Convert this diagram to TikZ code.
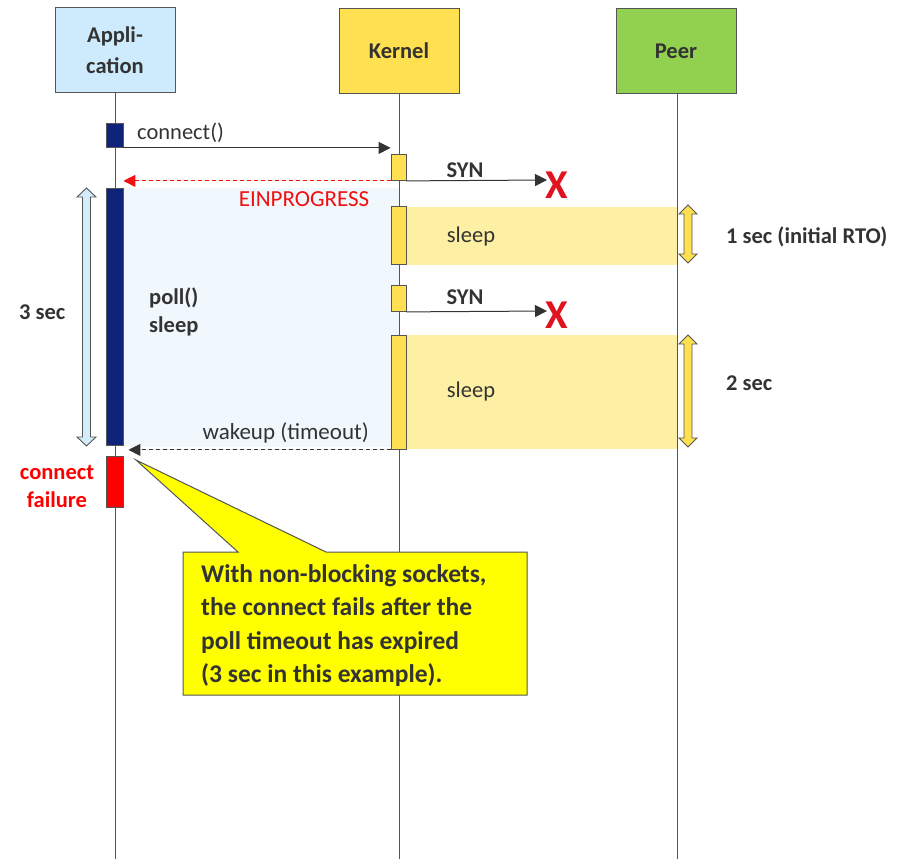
\documentclass[tikz,border=0pt]{standalone}
\usepackage{fontspec}
\setmainfont{Carlito}
\usetikzlibrary{arrows.meta}
\definecolor{txt}{HTML}{333333}
\definecolor{ln}{HTML}{555555}
\definecolor{appblue}{HTML}{CDEBFC}
\definecolor{kern}{HTML}{FFE050}
\definecolor{peer}{HTML}{92D050}
\definecolor{navy}{HTML}{10237A}
\definecolor{pollbg}{HTML}{F0F8FD}
\definecolor{sleepbg}{HTML}{FDF0A4}
\definecolor{xred}{HTML}{E0141E}
\definecolor{ered}{HTML}{F01010}
\definecolor{calloutbg}{HTML}{FFFF00}
\definecolor{dblblue}{HTML}{D4EDFC}
\begin{document}
\begin{tikzpicture}[x=1pt,y=-1pt,
  every node/.style={text=txt},
  lbl/.style={font=\fontsize{22.5}{28}\selectfont},
  blbl/.style={font=\fontsize{22.5}{28}\selectfont\bfseries},
  head/.style={draw=ln, line width=1pt, minimum width=120pt, minimum height=85pt, inner sep=0pt, anchor=north, align=center, font=\fontsize{22.5}{30.5}\selectfont\bfseries},
  life/.style={draw=ln, line width=0.9pt},
  bar/.style={draw=ln, line width=0.9pt, inner sep=0pt, anchor=north},
  appbar/.style={bar, minimum width=17pt},
  kbar/.style={bar, minimum width=15pt, fill=kern},
  msg/.style={draw=txt, line width=1pt, -{Triangle[length=12pt,width=12pt]}},
  dmsg/.style={line width=1pt, dash pattern=on 4pt off 3pt, -{Triangle[length=12pt,width=12pt]}},
  xmark/.style={font=\fontsize{41}{41}\selectfont\bfseries, text=xred, inner sep=0pt},
  dbl/.style={draw=ln, line width=0.9pt, line join=miter}
]
\useasboundingbox (0,0) rectangle (917,859);

% headers
\node[head, fill=appblue] (app) at (115,7) {Appli-\\cation};
\node[head, fill=kern] (ker) at (399,8) {Kernel};
\node[head, fill=peer] (peer) at (676,8) {Peer};

% backgrounds
\fill[pollbg] (123,188) rectangle (399,447);
\fill[sleepbg] (406,207) rectangle (677,265);
\fill[sleepbg] (406,335) rectangle (677,449);

% lifelines
\coordinate (append) at (115,859);
\coordinate (kerend) at (399,859);
\coordinate (peerend) at (677,859);
\draw[life] (app.south) -- (append);
\draw[life] (ker.south) -- (kerend);
\draw[life] (peer.south -| peerend) -- (peerend);

% callout
\filldraw[fill=calloutbg, draw=ln, line width=1pt, line join=miter]
  (183,552) -- (238,552) -- (136,460) -- (326,552) -- (527,552) -- (527,695) -- (183,695) -- cycle;
\node[anchor=north west, align=left, inner sep=0pt,
  font=\fontsize{25.5}{33.6}\selectfont\bfseries] (note) at (201,564)
  {With non-blocking sockets,\\the connect fails after the\\poll timeout has expired\\(3 sec in this example).};

% activation bars
\node[appbar, fill=navy, minimum height=24pt] (c1) at (114.5,123) {};
\node[kbar, minimum height=26pt] (k1) at (398.5,154) {};
\node[appbar, fill=navy, minimum height=257pt] (p) at (114.5,188) {};
\node[kbar, minimum height=58pt] (k2) at (398.5,206) {};
\node[kbar, minimum height=26pt] (k3) at (398.5,285) {};
\node[kbar, minimum height=114pt] (k4) at (398.5,335) {};
\node[appbar, fill=red, minimum height=51pt] (fail) at (114.5,456) {};

% messages
\draw[msg] (c1.south east) -- (k1.west |- c1.south east);
\node[lbl, anchor=west, inner sep=0pt] (lconn) at (137,133) {connect()};

\draw[dmsg, draw=ered, fill=ered]
  (k1.south west) -- (c1.south east |- k1.south west);
\node[lbl, text=ered, inner sep=0pt, font=\fontsize{23}{28}\selectfont] (lein) at (304,199) {EINPROGRESS};

\coordinate (x1tip) at (547,180);
\draw[msg] (k1.south east) -- (x1tip);
\node[blbl, inner sep=0pt] (lsyn1) at (465,170) {SYN};
\node[xmark] (x1) at (557,185) {X};

\coordinate (x2tip) at (547,311);
\draw[msg] (k3.south east) -- (x2tip);
\node[blbl, inner sep=0pt] (lsyn2) at (465,297) {SYN};
\node[xmark] (x2) at (557,315) {X};

\draw[dmsg, draw=txt, fill=txt, shorten >=5pt]
  (k4.south west) -- (p.south east |- k4.south west);
\node[lbl, anchor=east, inner sep=0pt, font=\fontsize{23}{28}\selectfont] (lwake) at (369,433) {wakeup (timeout)};

% texts
\node[lbl, inner sep=0pt] (s1) at (471,236) {sleep};
\node[lbl, inner sep=0pt] (s2) at (471,391) {sleep};
\node[blbl, anchor=west, inner sep=0pt] (t1) at (726,237) {1 sec (initial RTO)};
\node[blbl, anchor=west, inner sep=0pt] (t2) at (726,383) {2 sec};
\node[blbl, anchor=west, inner sep=0pt] (t3) at (19,312) {3 sec};
\node[blbl, anchor=north west, align=left, inner sep=0pt,
  font=\fontsize{22.5}{28}\selectfont\bfseries] (poll) at (149,288) {poll()\\sleep};
\node[blbl, text=red, align=center, inner sep=0pt,
  font=\fontsize{22.5}{28}\selectfont\bfseries] (cf) at (57,486) {connect\\failure};

% double arrows
\filldraw[dbl, fill=dblblue]
  (86.5,188) -- (96,197) -- (90.5,197) -- (90.5,437) -- (96,437) -- (86.5,446)
  -- (77,437) -- (82.5,437) -- (82.5,197) -- (77,197) -- cycle;
\filldraw[dbl, fill=kern]
  (688,205) -- (697,214) -- (692,214) -- (692,254) -- (697,254) -- (688,263)
  -- (679,254) -- (684,254) -- (684,214) -- (679,214) -- cycle;
\filldraw[dbl, fill=kern]
  (688,335) -- (697,344) -- (692,344) -- (692,438) -- (697,438) -- (688,447)
  -- (679,438) -- (684,438) -- (684,344) -- (679,344) -- cycle;
\end{tikzpicture}
\end{document}
